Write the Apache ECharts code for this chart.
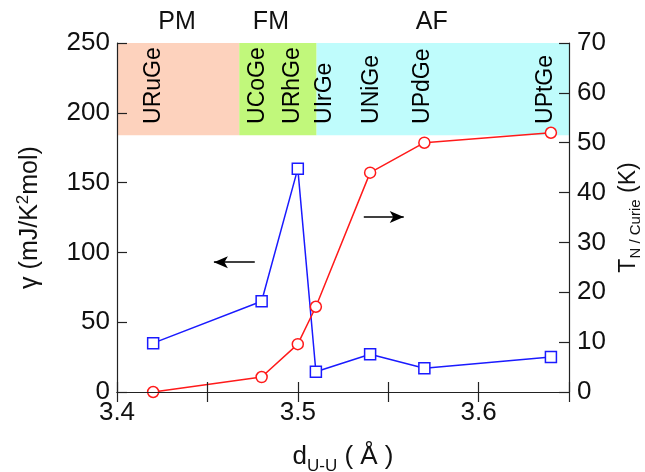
<!DOCTYPE html>
<html>
<head>
<meta charset="utf-8">
<script src="https://cdn.jsdelivr.net/npm/echarts@6/dist/echarts.min.js"></script>
<style>html,body{margin:0;padding:0;background:#fff;}#c{width:645px;height:472px;}</style>
</head>
<body>
<div id="c"></div>
<script>
// ---- data ----
const dUU = [3.42, 3.48, 3.50, 3.51, 3.54, 3.57, 3.64];
const gamma = [35, 65, 160, 14.5, 27, 17, 25];
const tOrder = [0, 3, 9.6, 17.1, 44, 50, 52];
const compounds = ['URuGe', 'UCoGe', 'URhGe', 'UIrGe', 'UNiGe', 'UPdGe', 'UPtGe'];
const compoundLabelX = [3.42, 3.478, 3.497, 3.515, 3.541, 3.569, 3.637];
const compoundLabelY = 192;
const phases = ['PM', 'FM', 'AF'];
const phaseStart = [3.40, 3.4676, 3.5104];
const phaseEnd = [3.4676, 3.5104, 3.65];
const phaseColors = ['#fdd2bd', '#c1f87b', '#bffcfc'];
const bandBottom = 184;   // gamma units
const xTicks = [3.4, 3.5, 3.6];
const leftArrow = {x: [3.4762, 3.4536], y: 93};
const rightArrow = {x: [3.5365, 3.5586], y: 35.1};

const FONT = 'Liberation Sans, Arial, Helvetica, sans-serif';
const chart = echarts.init(document.getElementById('c'), null, {renderer: 'canvas'});

const axisLine = {show: true, lineStyle: {color: '#222', width: 1.2}};
const tick = {show: true, inside: true, length: 10, lineStyle: {color: '#222', width: 1.2}};

const option = {
  animation: false,
  backgroundColor: '#fff',
  textStyle: {fontFamily: FONT},
  grid: {left: 117, right: 76, top: 43, bottom: 80, containLabel: false, outerBoundsMode: 'none'},
  xAxis: [{
    type: 'value', min: 3.4, max: 3.65, interval: 0.05, z: 10,
    axisLine: axisLine, axisTick: tick, splitLine: {show: false},
    axisLabel: {
      fontSize: 26, color: '#111', fontFamily: FONT, margin: 8,
      formatter: v => xTicks.some(t => Math.abs(t - v) < 1e-6) ? v.toFixed(1) : ''
    },
    name: '{a|d}{s|U-U}{a| ( Å )}', nameLocation: 'middle', nameGap: 49,
    nameTextStyle: {
      rich: {
        a: {fontSize: 26, fontFamily: FONT, color: '#111', lineHeight: 32, verticalAlign: 'middle'},
        s: {fontSize: 17, fontFamily: FONT, color: '#111', lineHeight: 32, verticalAlign: 'bottom', padding: [0, 0, -2, 0]}
      }
    }
  }, {
    type: 'value', position: 'top', min: 3.4, max: 3.65, interval: 0.05, z: 10,
    axisLine: axisLine, axisTick: tick, splitLine: {show: false}, axisLabel: {show: false}
  }],
  yAxis: [{
    type: 'value', min: 0, max: 250, interval: 50, z: 10,
    axisLine: axisLine, axisTick: tick, splitLine: {show: false},
    axisLabel: {fontSize: 26, color: '#111', fontFamily: FONT, margin: 7},
    name: '{a|γ (mJ/K}{p|2}{a|mol)}', nameLocation: 'middle', nameGap: 72, nameRotate: 90,
    nameTextStyle: {
      rich: {
        a: {fontSize: 25, fontFamily: FONT, color: '#111', lineHeight: 30, verticalAlign: 'middle'},
        p: {fontSize: 17, fontFamily: FONT, color: '#111', lineHeight: 30, verticalAlign: 'top'}
      }
    }
  }, {
    type: 'value', min: 0, max: 70, interval: 10, position: 'right', z: 10,
    axisLine: axisLine, axisTick: tick, splitLine: {show: false},
    axisLabel: {fontSize: 26, color: '#111', fontFamily: FONT, margin: 8},
    name: '{a|T}{s|N / Curie}{a| (K)}', nameLocation: 'middle', nameGap: 44, nameRotate: 90,
    nameTextStyle: {
      rich: {
        a: {fontSize: 23, fontFamily: FONT, color: '#111', lineHeight: 28, verticalAlign: 'middle'},
        s: {fontSize: 15, fontFamily: FONT, color: '#111', lineHeight: 28, verticalAlign: 'bottom', padding: [0, 0, -1, 0]}
      }
    }
  }],
  series: [
    {
      // phase bands
      type: 'line', xAxisIndex: 0, yAxisIndex: 0, data: [], silent: true, z: 0,
      markArea: {
        silent: true,
        data: phases.map((p, i) => [
          {name: p, xAxis: phaseStart[i], yAxis: bandBottom, itemStyle: {color: phaseColors[i], opacity: 1},
           label: {show: true, position: 'top', distance: 8, fontSize: 25, color: '#111', fontFamily: FONT,
                   offset: p === 'AF' ? [-11, 0] : (p === 'FM' ? [-7, 0] : [-1, 0])}},
          {xAxis: phaseEnd[i], yAxis: 250}
        ])
      }
    },
    {
      // compound labels (rotated text placed through the axes)
      type: 'custom', xAxisIndex: 0, yAxisIndex: 0, silent: true, z: 3,
      data: compoundLabelX.map(x => [x, compoundLabelY]),
      renderItem: (params, api) => {
        const p = api.coord([api.value(0), api.value(1)]);
        return {
          type: 'text', x: p[0], y: p[1], rotation: Math.PI / 2,
          style: {
            text: compounds[params.dataIndex], fontSize: 23, fontFamily: FONT,
            fill: '#000', align: 'left', verticalAlign: 'middle'
          }
        };
      }
    },
    {
      name: 'gamma', type: 'line', xAxisIndex: 0, yAxisIndex: 0, z: 5,
      data: dUU.map((x, i) => [x, gamma[i]]),
      symbol: 'rect', symbolSize: 11,
      lineStyle: {color: '#1a1aff', width: 1.5},
      itemStyle: {color: '#fff', borderColor: '#1a1aff', borderWidth: 1.5},
      markLine: {
        silent: true, symbol: ['none', 'arrow'], symbolSize: [9, 14],
        label: {show: false},
        lineStyle: {color: '#000', width: 1.5, type: 'solid'},
        data: [[{coord: [leftArrow.x[0], leftArrow.y]}, {coord: [leftArrow.x[1], leftArrow.y]}]]
      }
    },
    {
      name: 'T', type: 'line', xAxisIndex: 0, yAxisIndex: 1, z: 6,
      data: dUU.map((x, i) => [x, tOrder[i]]),
      symbol: 'circle', symbolSize: 11,
      lineStyle: {color: '#ff1a1a', width: 1.5},
      itemStyle: {color: '#fff', borderColor: '#ff1a1a', borderWidth: 1.5},
      markLine: {
        silent: true, symbol: ['none', 'arrow'], symbolSize: [9, 14],
        label: {show: false},
        lineStyle: {color: '#000', width: 1.5, type: 'solid'},
        data: [[{coord: [rightArrow.x[0], rightArrow.y]}, {coord: [rightArrow.x[1], rightArrow.y]}]]
      }
    }
  ]
};
chart.setOption(option);
</script>
</body>
</html>
